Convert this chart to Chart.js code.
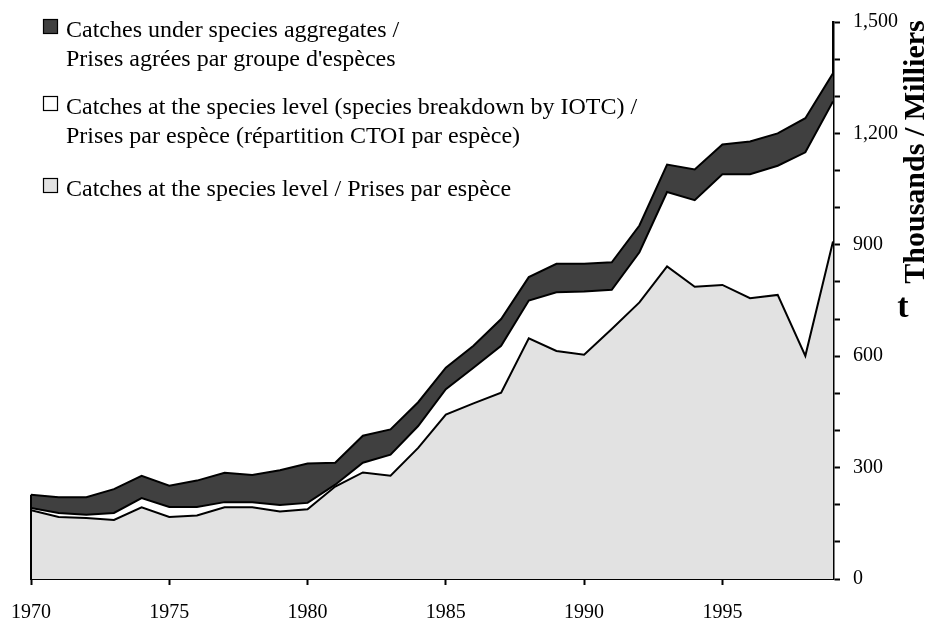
<!DOCTYPE html>
<html>
<head>
<meta charset="utf-8">
<script src="https://cdn.jsdelivr.net/npm/chart.js@4/dist/chart.umd.min.js"></script>
<style>
html,body{margin:0;padding:0;background:#fff;}
#wrap{width:935px;height:624px;position:relative;}
</style>
</head>
<body>
<div id="wrap"><canvas id="c" width="935" height="624"></canvas></div>
<script>
// ---- data (thousand tonnes) ----
const years = [1970,1971,1972,1973,1974,1975,1976,1977,1978,1979,1980,1981,1982,1983,1984,1985,1986,1987,1988,1989,1990,1991,1992,1993,1994,1995,1996,1997,1998,1999];
const speciesLevel = [185,167,164,159,193,167,171,193,193,182,188,249,287,278,353,443,473,502,648,614,604,673,745,842,787,792,756,765,601,909];
const iotcBreakdown = [6,11,9,19,25,27,23,14,14,17,17,5,26,57,59,68,96,126,102,158,170,106,135,200,233,298,334,348,548,377];
const aggregates = [36,42,47,64,60,57,71,79,73,94,106,59,73,68,64,58,59,72,63,77,75,74,72,74,83,80,88,87,92,76];
const xTicks = [1970,1975,1980,1985,1990,1995];
const yLabelTicks = [0,300,600,900,1200,1500];
const legendEntries = [
  {lines:["Catches under species aggregates /","Prises agrées par groupe d'espèces"], color:"#404040"},
  {lines:["Catches at the species level (species breakdown by IOTC) /","Prises par espèce (répartition CTOI par espèce)"], color:"#ffffff"},
  {lines:["Catches at the species level / Prises par espèce"], color:"#e2e2e2"}
];
const axisTitle = "Thousands / Milliers";
const unitLabel = "t";

const SERIF = "'Liberation Serif','Times New Roman',serif";
const toPts = arr => arr.map((v,i)=>({x:years[i], y:v}));

const legendPlugin = {
  id:'customLegend',
  afterDraw(chart){
    const ctx = chart.ctx;
    ctx.save();
    ctx.font = "24px " + SERIF;
    ctx.fillStyle = "#000";
    ctx.textBaseline = "alphabetic";
    ctx.textAlign = "left";
    const baselines = [[37,66],[114,143],[196]];
    legendEntries.forEach((e,i)=>{
      const b = baselines[i];
      ctx.fillStyle = e.color;
      ctx.fillRect(43, b[0]-18, 15, 15);
      ctx.strokeStyle = "#000";
      ctx.lineWidth = 1.2;
      ctx.strokeRect(43.5, b[0]-17.5, 14, 14);
      ctx.fillStyle = "#000";
      e.lines.forEach((t,j)=>ctx.fillText(t, 66, b[j]));
    });
    ctx.font = "bold 30px " + SERIF;
    ctx.translate(916, 152);
    ctx.rotate(-Math.PI/2);
    ctx.textAlign = "center";
    ctx.textBaseline = "middle";
    ctx.fillText(axisTitle, 0, 0);
    ctx.restore();
    ctx.save();
    ctx.font = "bold 34px " + SERIF;
    ctx.fillStyle = "#000";
    ctx.textAlign = "center";
    ctx.textBaseline = "alphabetic";
    ctx.fillText(unitLabel, 903, 317);
    ctx.restore();
  }
};

const edgePlugin = {
  id:'edge',
  afterDatasetsDraw(chart){
    const x = chart.scales.x, y = chart.scales.y, ctx = chart.ctx;
    const top = speciesLevel[0] + iotcBreakdown[0] + aggregates[0];
    ctx.save();
    ctx.strokeStyle = "#000";
    ctx.lineWidth = 2;
    const px = x.getPixelForValue(years[0]);
    ctx.beginPath();
    ctx.moveTo(px, y.getPixelForValue(0));
    ctx.lineTo(px, y.getPixelForValue(top));
    ctx.stroke();
    ctx.restore();
  }
};

new Chart(document.getElementById('c'), {
  type:'line',
  data:{
    datasets:[
      {label:"Catches at the species level / Prises par espèce", data:toPts(speciesLevel), backgroundColor:"#e2e2e2", borderColor:"#000", borderWidth:2, fill:'origin', pointRadius:0, pointHoverRadius:0, tension:0},
      {label:"Catches at the species level (species breakdown by IOTC)", data:toPts(iotcBreakdown), backgroundColor:"#ffffff", borderColor:"#000", borderWidth:2, fill:'-1', pointRadius:0, pointHoverRadius:0, tension:0},
      {label:"Catches under species aggregates", data:toPts(aggregates), backgroundColor:"#404040", borderColor:"#000", borderWidth:2, fill:'-1', pointRadius:0, pointHoverRadius:0, tension:0}
    ]
  },
  options:{
    responsive:false,
    animation:false,
    devicePixelRatio:1,
    layout:{autoPadding:false, padding:{left:31, top:22, right:0, bottom:0}},
    plugins:{legend:{display:false}, tooltip:{enabled:false}, title:{display:false}},
    scales:{
      x:{
        type:'linear', min:years[0], max:years[years.length-1],
        afterBuildTicks(s){ s.ticks = xTicks.map(v=>({value:v})); },
        afterFit(s){ s.height = 45; s.paddingLeft = 0; s.paddingRight = 0; },
        ticks:{font:{family:SERIF, size:20}, color:"#000", padding:16, maxRotation:0, callback:v=>String(v)},
        grid:{drawOnChartArea:false, drawTicks:true, tickLength:6, tickColor:"#000", tickWidth:2},
        border:{display:true, color:"#000", width:2}
      },
      y:{
        position:'right', stacked:true, min:0, max:1500,
        afterFit(s){ s.width = 102; s.paddingTop = 0; s.paddingBottom = 0; },
        ticks:{stepSize:100, font:{family:SERIF, size:20}, color:"#000", padding:13,
          callback:v=> yLabelTicks.includes(v) ? v.toLocaleString('en-US') : ''},
        grid:{drawOnChartArea:false, drawTicks:true, tickLength:7, tickColor:"#000", tickWidth:2},
        border:{display:true, color:"#000", width:2.5}
      }
    }
  },
  plugins:[legendPlugin, edgePlugin]
});
</script>
</body>
</html>
